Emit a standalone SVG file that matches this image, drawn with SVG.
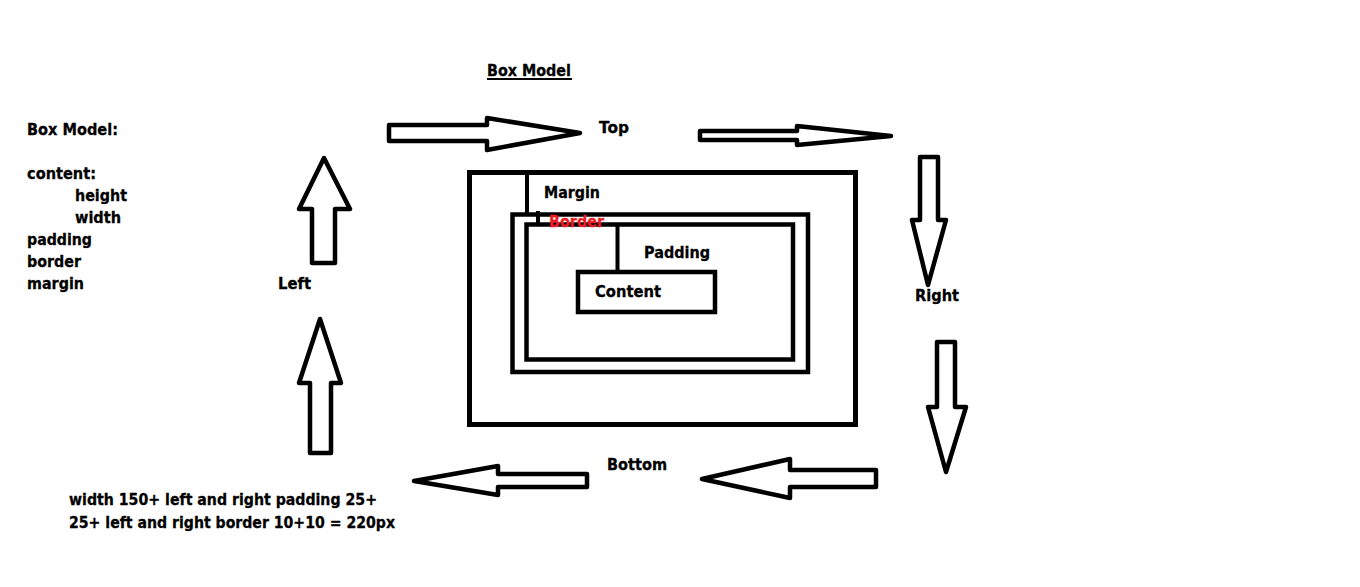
<svg xmlns="http://www.w3.org/2000/svg" width="1360" height="587" viewBox="0 0 1360 587">
<style>
text{font-family:"DejaVu Sans","Liberation Sans",sans-serif;font-weight:bold;font-size:15px;fill:#000;stroke:#000;stroke-width:0.3}
.red{fill:#ed1c24;stroke:#ed1c24}
.box{fill:none;stroke:#000}
.arrow{fill:#fff;stroke:#000;stroke-width:4.5;stroke-linejoin:round}
.lead{stroke:#000;stroke-width:4}
</style>
<rect width="1360" height="587" fill="#fff"/>
<g id="title">
<text x="487" y="76" textLength="84" lengthAdjust="spacingAndGlyphs">Box Model</text>
<line x1="487" y1="79" x2="572" y2="79" stroke="#000" stroke-width="2"/>
</g>
<g id="legend">
<text x="27" y="135" textLength="91" lengthAdjust="spacingAndGlyphs">Box Model:</text>
<text x="27" y="179" textLength="69" lengthAdjust="spacingAndGlyphs">content:</text>
<text x="75" y="201" textLength="52" lengthAdjust="spacingAndGlyphs">height</text>
<text x="75" y="223" textLength="46" lengthAdjust="spacingAndGlyphs">width</text>
<text x="27" y="245" textLength="65" lengthAdjust="spacingAndGlyphs">padding</text>
<text x="27" y="267" textLength="54" lengthAdjust="spacingAndGlyphs">border</text>
<text x="27" y="289" textLength="57" lengthAdjust="spacingAndGlyphs">margin</text>
</g>
<g id="note">
<text x="69" y="505" textLength="308" lengthAdjust="spacingAndGlyphs">width 150+ left and right padding 25+</text>
<text x="69" y="528" textLength="326" lengthAdjust="spacingAndGlyphs">25+ left and right border 10+10 = 220px</text>
</g>
<g id="margin-box">
<rect class="box" x="469.5" y="172.5" width="386" height="252" stroke-width="5"/>
<text x="544" y="198" textLength="56" lengthAdjust="spacingAndGlyphs">Margin</text>
</g>
<g id="border-box">
<rect class="box" x="512.5" y="214.5" width="295.5" height="157.5" stroke-width="4.5"/>
</g>
<g id="padding-box">
<rect class="box" x="526.5" y="224.5" width="266.5" height="135" stroke-width="4.5"/>
<text x="644" y="258" textLength="66" lengthAdjust="spacingAndGlyphs">Padding</text>
</g>
<g id="border-label">
<text class="red" x="549" y="227" textLength="55" lengthAdjust="spacingAndGlyphs">Border</text>
</g>
<g id="content-box">
<rect class="box" x="578" y="272" width="137" height="40" stroke-width="4.5"/>
<text x="595" y="297" textLength="66" lengthAdjust="spacingAndGlyphs">Content</text>
</g>
<g id="labels">
<text x="599" y="133" textLength="30" lengthAdjust="spacingAndGlyphs">Top</text>
<text x="278" y="289" textLength="33" lengthAdjust="spacingAndGlyphs">Left</text>
<text x="915" y="301" textLength="44" lengthAdjust="spacingAndGlyphs">Right</text>
<text x="607" y="470" textLength="60" lengthAdjust="spacingAndGlyphs">Bottom</text>
</g>
<g id="connectors">
<line class="lead" x1="527" y1="172" x2="527" y2="213"/>
<line class="lead" x1="538" y1="211" x2="538" y2="226"/>
<line class="lead" x1="617.5" y1="226" x2="617.5" y2="272"/>
<polygon class="arrow" points="389,125 487,125 487,118 580,133 487,150 487,141 389,141"/>
<polygon class="arrow" points="700,131 797,131 797,126 891,136 797,145 797,140 700,140"/>
<polygon class="arrow" points="920,157 938,157 938,220 946,220 928,285 912,220 920,220"/>
<polygon class="arrow" points="937,342 955,342 955,407 966,407 946,472 928,407 937,407"/>
<polygon class="arrow" points="876,470 876,487 790,487 790,498 702,479 790,459 790,470"/>
<polygon class="arrow" points="587,474 587,487 498,487 498,495 414,481 498,466 498,474"/>
<polygon class="arrow" points="331,453 310,453 310,383 299,383 320,319 341,383 331,383"/>
<polygon class="arrow" points="335,263 312,263 312,209 299,209 324,158 350,209 335,209"/>
</g>
</svg>
